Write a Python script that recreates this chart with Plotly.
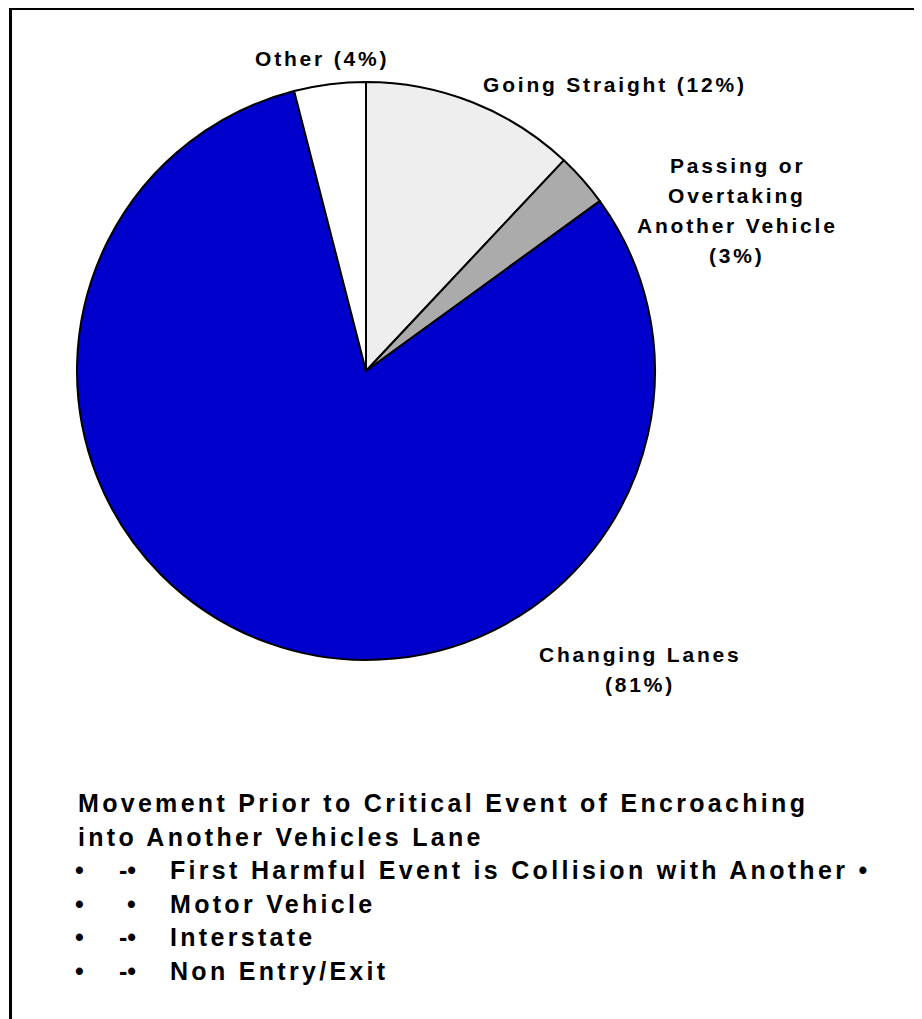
"""
Pie chart: movement prior to critical event of encroaching into another vehicle's lane
"""
import plotly.graph_objects as go

# data
category_lines = [["Going Straight"], ["Passing or", "Overtaking", "Another Vehicle"],
                  ["Changing Lanes"], ["Other"]]
percent = [12, 3, 81, 4]
pct_on_own_line = [False, True, True, False]
slice_colors = ["#EEEEEE", "#ABABAB", "#0000CC", "#FFFFFF"]

heading = ["Movement Prior to Critical Event of Encroaching", "into Another Vehicles Lane"]
bullet_marks = ["-•", "•", "-•", "-•"]
bullet_items = ["First Harmful Event is Collision with Another •", "Motor Vehicle",
                "Interstate", "Non Entry/Exit"]

W, H = 922, 1019


def px(x):
    return x / W


def py(y):
    return 1 - y / H


def spaced(txt, ls):
    return '<span style="letter-spacing:%spx">%s</span>' % (ls, txt)


FONT = "Liberation Sans, Arial, sans-serif"
label_font = dict(family=FONT, size=21, color="black", weight="bold")
text_font = dict(family=FONT, size=25, color="black", weight="bold")

fig = go.Figure()

fig.add_trace(
    go.Pie(labels=[" ".join(l) for l in category_lines], values=percent,
           sort=False, direction="clockwise", rotation=0,
           marker=dict(colors=slice_colors, line=dict(color="black", width=2)),
           textinfo="none", hoverinfo="skip",
           domain=dict(x=[px(69), px(647)], y=[py(652), py(74)]))
)

# slice labels (centre x, y of first line)
label_pos = [(607, 76), (729, 157), (632, 646), (314, 50)]
line_gap = 30
annotations = []
for lines, p, own, (lx, ly) in zip(category_lines, percent, pct_on_own_line, label_pos):
    rows = list(lines)
    if own:
        rows.append("(%d%%)" % p)
    else:
        rows[-1] = "%s (%d%%)" % (rows[-1], p)
    for j, r in enumerate(rows):
        annotations.append(dict(
            x=px(lx), y=py(ly + line_gap * j), xref="paper", yref="paper",
            text=spaced(r, 2.8), showarrow=False, xanchor="center", yanchor="middle",
            font=label_font))

# heading + bullet list
for i, line in enumerate(heading):
    annotations.append(dict(
        x=px(68), y=py(795 + 33.5 * i), xref="paper", yref="paper",
        text=spaced(line, 3.3), showarrow=False, xanchor="left", yanchor="middle",
        font=text_font))

for i, (mark, item) in enumerate(zip(bullet_marks, bullet_items)):
    yy = py(862 + 33.5 * i)
    annotations.append(dict(x=px(71), y=yy, xref="paper", yref="paper", text="•",
                            showarrow=False, xanchor="center", yanchor="middle",
                            font=text_font))
    annotations.append(dict(x=px(130), y=yy, xref="paper", yref="paper", text=mark,
                            showarrow=False, xanchor="right", yanchor="middle",
                            font=text_font))
    annotations.append(dict(x=px(160), y=yy, xref="paper", yref="paper",
                            text=spaced(item, 3.3), showarrow=False,
                            xanchor="left", yanchor="middle", font=text_font))

fig.update_layout(
    width=W, height=H,
    margin=dict(l=0, r=0, t=0, b=0),
    paper_bgcolor="white", plot_bgcolor="white",
    showlegend=False,
    annotations=annotations,
    shapes=[dict(type="rect", xref="paper", yref="paper",
                 x0=px(2.5), x1=1.05, y0=-0.05, y1=py(0.5),
                 line=dict(color="black", width=3))],
)

fig.write_html("out.html")
